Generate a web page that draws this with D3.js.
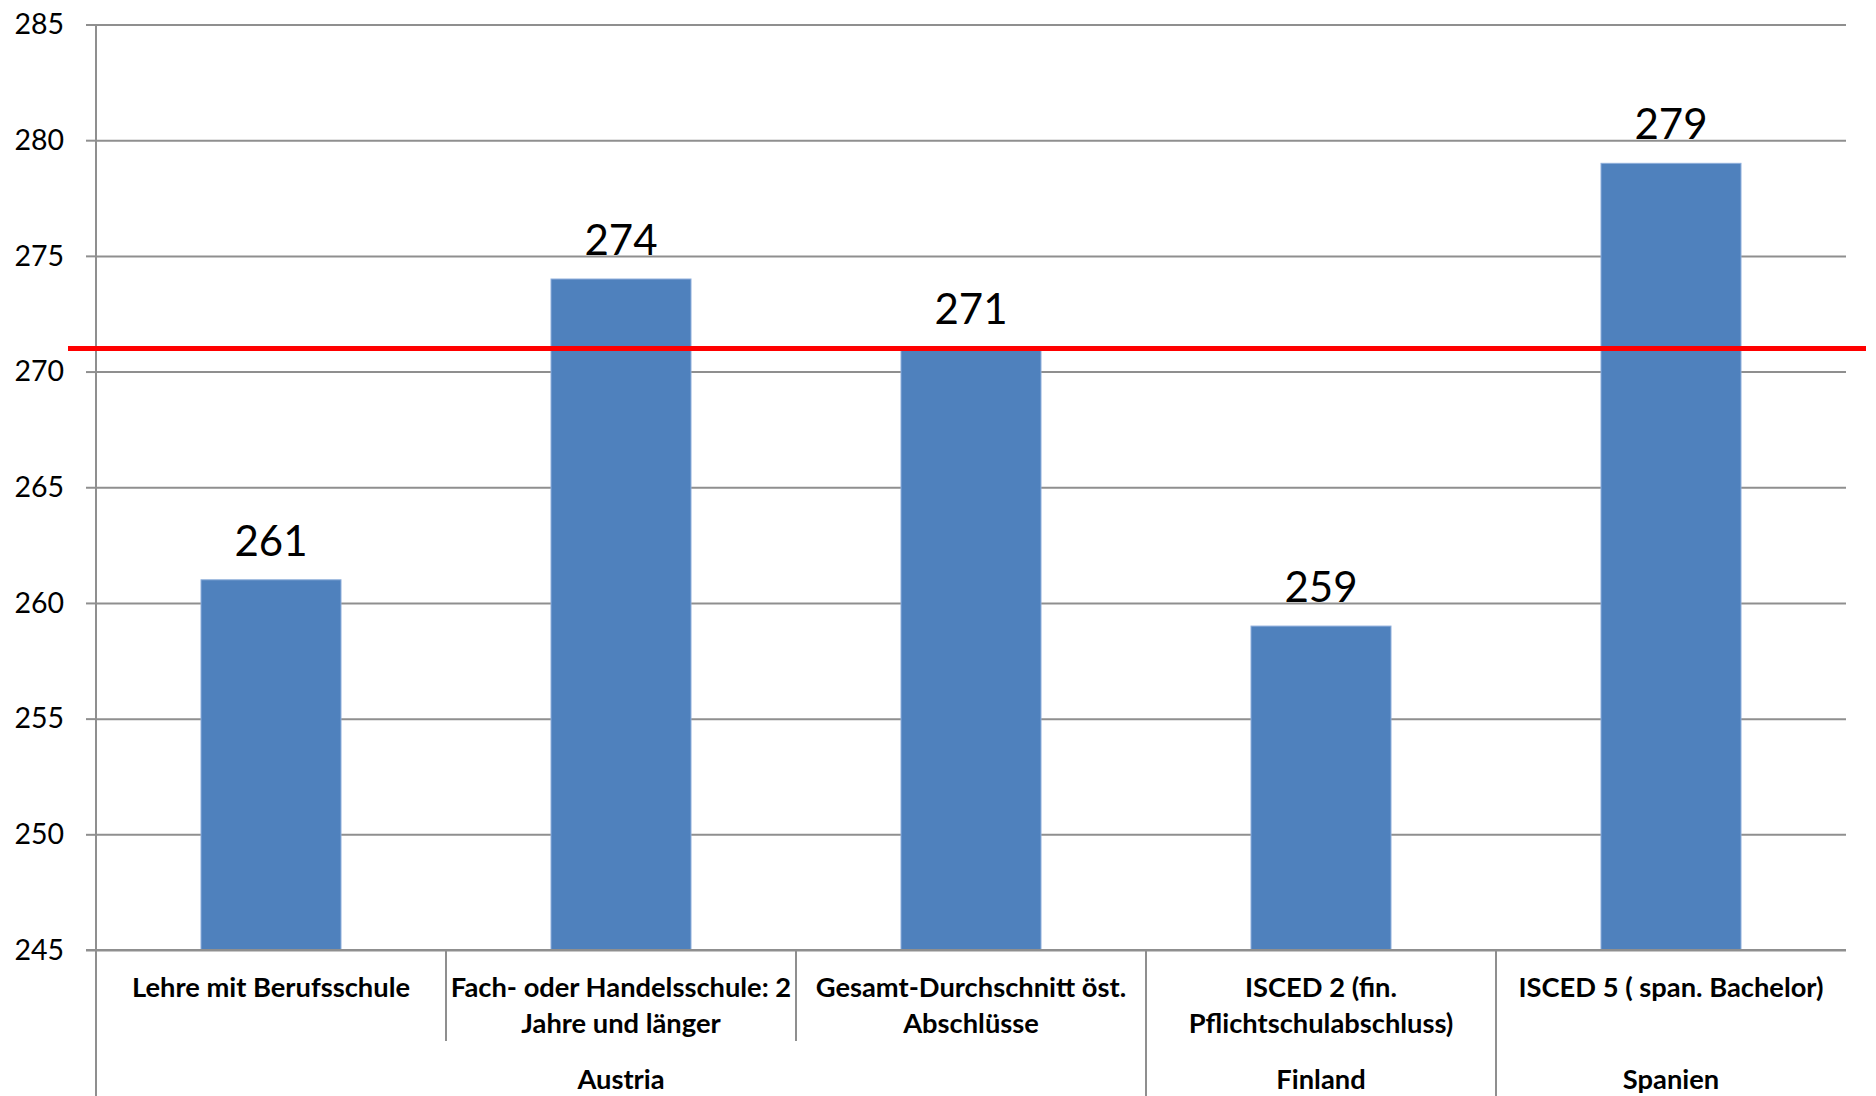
<!DOCTYPE html>
<html>
<head>
<meta charset="utf-8">
<script src="https://cdn.jsdelivr.net/npm/d3@7"></script>
<style>
  html, body { margin: 0; padding: 0; background: #ffffff; }
  svg { display: block; font-family: Lato, "Open Sans", sans-serif; }
</style>
</head>
<body>
<svg id="chart" width="1876" height="1096"></svg>
<script>
// Scores by completed education level
const categories = [
  "Lehre mit Berufsschule",
  "Fach- oder Handelsschule: 2 Jahre und länger",
  "Gesamt-Durchschnitt öst. Abschlüsse",
  "ISCED 2 (fin. Pflichtschulabschluss)",
  "ISCED 5 ( span. Bachelor)"
];
const categoryLines = [
  ["Lehre mit Berufsschule"],
  ["Fach- oder Handelsschule: 2", "Jahre und länger"],
  ["Gesamt-Durchschnitt öst.", "Abschlüsse"],
  ["ISCED 2 (fin.", "Pflichtschulabschluss)"],
  ["ISCED 5 ( span. Bachelor)"]
];
const values = [261, 274, 271, 259, 279];
const countries = ["Austria", "Finland", "Spanien"];
const countryCounts = [3, 1, 1];
const referenceValue = 271;
const yTicks = [245, 250, 255, 260, 265, 270, 275, 280, 285];

const svg = d3.select("#chart");
const plotLeft = 96, plotRight = 1846, plotTop = 24.5, plotBottom = 950;
const gridColor = "#8f8f8f";
const barColor = "#4f81bd";

const x = d3.scaleBand()
  .domain(categories)
  .range([plotLeft, plotRight])
  .paddingInner(0.6)
  .paddingOuter(0.3);

const y = d3.scaleLinear()
  .domain([245, 285])
  .range([plotBottom, plotTop]);

// horizontal gridlines
svg.append("g")
  .attr("transform", `translate(${plotLeft},0)`)
  .call(d3.axisLeft(y).tickValues(yTicks).tickSize(-(plotRight - plotLeft)).tickFormat(""))
  .call(g => g.select(".domain").remove())
  .call(g => g.selectAll("line").attr("stroke", gridColor).attr("stroke-width", 2));

// y axis with outer tick marks and labels
svg.append("g")
  .attr("transform", `translate(${plotLeft},0)`)
  .call(d3.axisLeft(y).tickValues(yTicks).tickSize(10).tickPadding(22).tickFormat(d3.format("d")))
  .call(g => g.select(".domain").remove())
  .call(g => g.selectAll("line").attr("stroke", gridColor).attr("stroke-width", 2))
  .call(g => g.selectAll("text")
    .attr("fill", "#000")
    .attr("font-size", 28.5)
    .attr("font-family", "Lato, sans-serif"));

// vertical axis line, running down through the category area
svg.append("line")
  .attr("x1", plotLeft).attr("x2", plotLeft)
  .attr("y1", plotTop).attr("y2", 1096)
  .attr("stroke", gridColor).attr("stroke-width", 2);

// bars
svg.append("g")
  .selectAll("rect")
  .data(values)
  .join("rect")
  .attr("x", (d, i) => x(categories[i]))
  .attr("width", x.bandwidth())
  .attr("y", d => y(d))
  .attr("height", d => y(245) - y(d))
  .attr("fill", barColor)
  .attr("stroke", "#8eaedb")
  .attr("stroke-width", 1);

// value labels
svg.append("g")
  .selectAll("text")
  .data(values)
  .join("text")
  .attr("x", (d, i) => x(categories[i]) + x.bandwidth() / 2)
  .attr("y", d => y(d) - 24)
  .attr("text-anchor", "middle")
  .attr("font-size", 42)
  .attr("fill", "#000")
  .text(d => d);

// category axis baseline
svg.append("line")
  .attr("x1", plotLeft - 10).attr("x2", plotRight)
  .attr("y1", y(245)).attr("y2", y(245))
  .attr("stroke", gridColor).attr("stroke-width", 2);

// separators between categories: short inside a country, full length between countries
const step = x.step();
const groupStarts = d3.cumsum(countryCounts);
for (let i = 1; i < categories.length; i++) {
  const xs = plotLeft + i * step;
  const full = groupStarts.includes(i);
  svg.append("line")
    .attr("x1", xs).attr("x2", xs)
    .attr("y1", y(245)).attr("y2", full ? 1096 : 1041)
    .attr("stroke", gridColor).attr("stroke-width", 2);
}

// category labels
const catG = svg.append("g")
  .attr("font-weight", "bold")
  .attr("font-size", 27.3)
  .attr("fill", "#000")
  .attr("text-anchor", "middle");
categoryLines.forEach((lines, i) => {
  const cx = x(categories[i]) + x.bandwidth() / 2;
  lines.forEach((t, j) => {
    catG.append("text").attr("x", cx).attr("y", 997 + j * 36).text(t);
  });
});

// country labels centred under their categories
let start = 0;
countries.forEach((c, k) => {
  const x0 = plotLeft + start * step;
  const x1 = plotLeft + (start + countryCounts[k]) * step;
  catG.append("text").attr("x", (x0 + x1) / 2).attr("y", 1089).text(c);
  start += countryCounts[k];
});

// reference line for the overall average
svg.append("line")
  .attr("x1", 68).attr("x2", 1866)
  .attr("y1", y(referenceValue)).attr("y2", y(referenceValue))
  .attr("stroke", "#ff0000").attr("stroke-width", 5);
</script>
</body>
</html>
